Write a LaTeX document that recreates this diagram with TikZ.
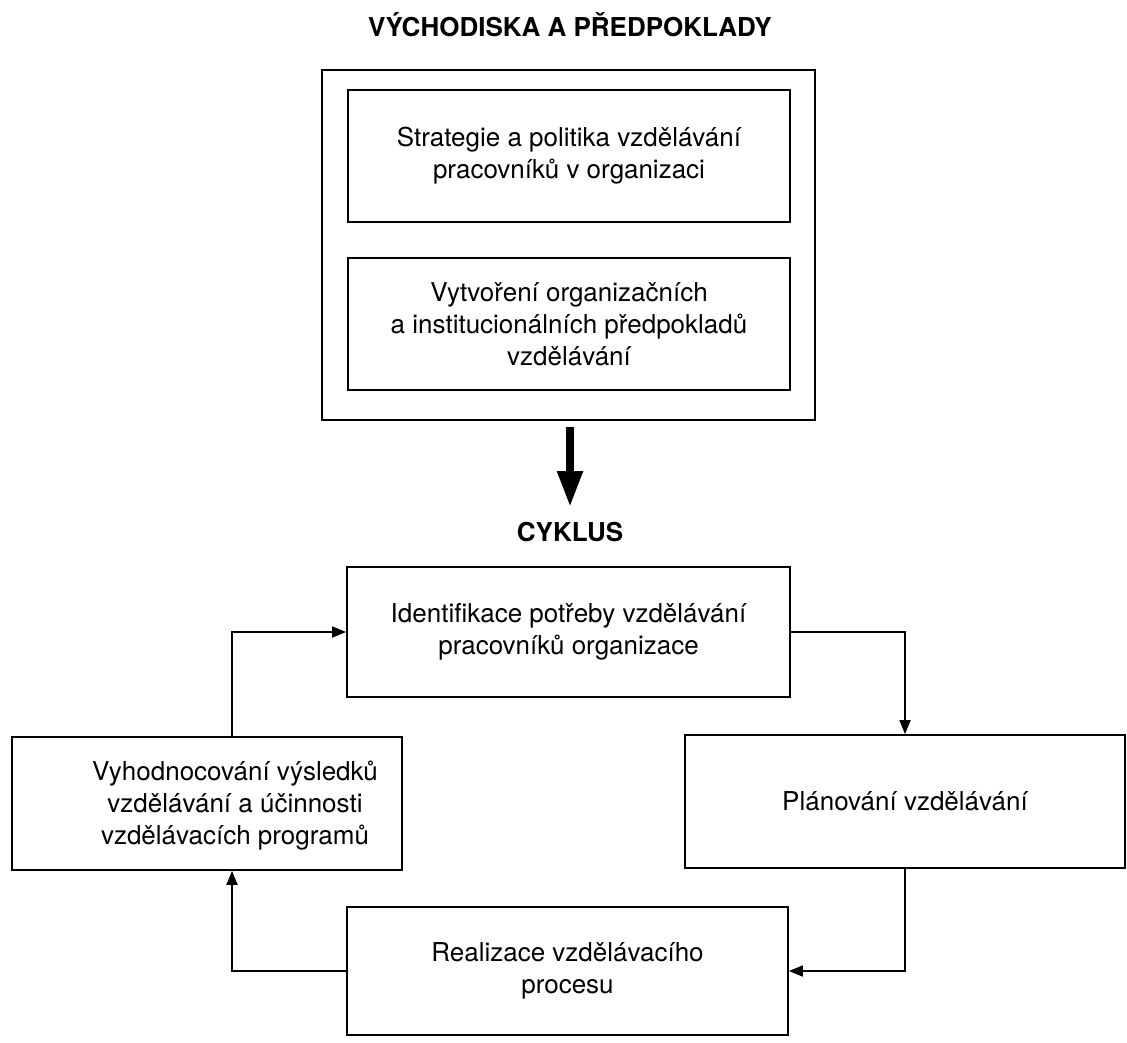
\documentclass[tikz,border=0pt]{standalone}
\usepackage{fontspec}
\setmainfont{TeX Gyre Heros}
\usetikzlibrary{arrows.meta,calc}
\begin{document}
\begin{tikzpicture}[x=1pt,y=-1pt,
  box/.style={draw, line width=1.8pt, rectangle, inner sep=0pt, align=center,
    font=\fontsize{26}{32}\selectfont},
  txt/.style={inner sep=0pt, align=center, font=\fontsize{26}{32}\selectfont},
  head/.style={inner sep=0pt, font=\fontsize{26}{32}\selectfont\bfseries},
  conn/.style={line width=1.8pt, -{Triangle[length=14pt,width=11pt]}},
  bigarrow/.style={line width=8pt, -{Triangle[length=36pt,width=24pt]}}]
\useasboundingbox (0,0) rectangle (1127,1042);
\fill[white] (0,0) rectangle (1127,1042);

\node[head] (title) at (570,25) {VÝCHODISKA A PŘEDPOKLADY};
\node[box, minimum width=493pt, minimum height=350pt] (outer) at (568.5,245) {};
\node[box, minimum width=442pt, minimum height=132pt] (s1) at (569,156)
  {Strategie a politika vzdělávání\\pracovníků v organizaci};
\node[box, minimum width=442pt, minimum height=132pt] (s2) at (569,324)
  {Vytvoření organizačních\\a institucionálních předpokladů\\vzdělávání};

\node[head] (cyklus) at (570,532) {CYKLUS};
\coordinate (bigstart) at (570,427);
\coordinate (bigend) at (570,507);
\draw[bigarrow] (bigstart) -- (bigend);

\node[box, minimum width=443pt, minimum height=130pt] (ident) at (568.5,632)
  {Identifikace potřeby vzdělávání\\pracovníků organizace};
\node[box, minimum width=390pt, minimum height=133pt] (eval) at (207,803.5) {};
\node[txt] (evaltext) at (235,806)
  {Vyhodnocování výsledků\\vzdělávání a účinnosti\\vzdělávacích programů};
\node[box, minimum width=440pt, minimum height=133pt] (plan) at (905,801.5)
  {Plánování vzdělávání};
\node[box, minimum width=441pt, minimum height=128pt] (real) at (567.5,971)
  {Realizace vzdělávacího\\procesu};

\draw[conn] (ident.east) -| (plan.north);
\draw[conn] (plan.south) |- (real.east);
\draw[conn] (real.west) -| ([xshift=25pt]eval.south);
\draw[conn] ([xshift=25pt]eval.north) |- (ident.west);
\end{tikzpicture}
\end{document}
